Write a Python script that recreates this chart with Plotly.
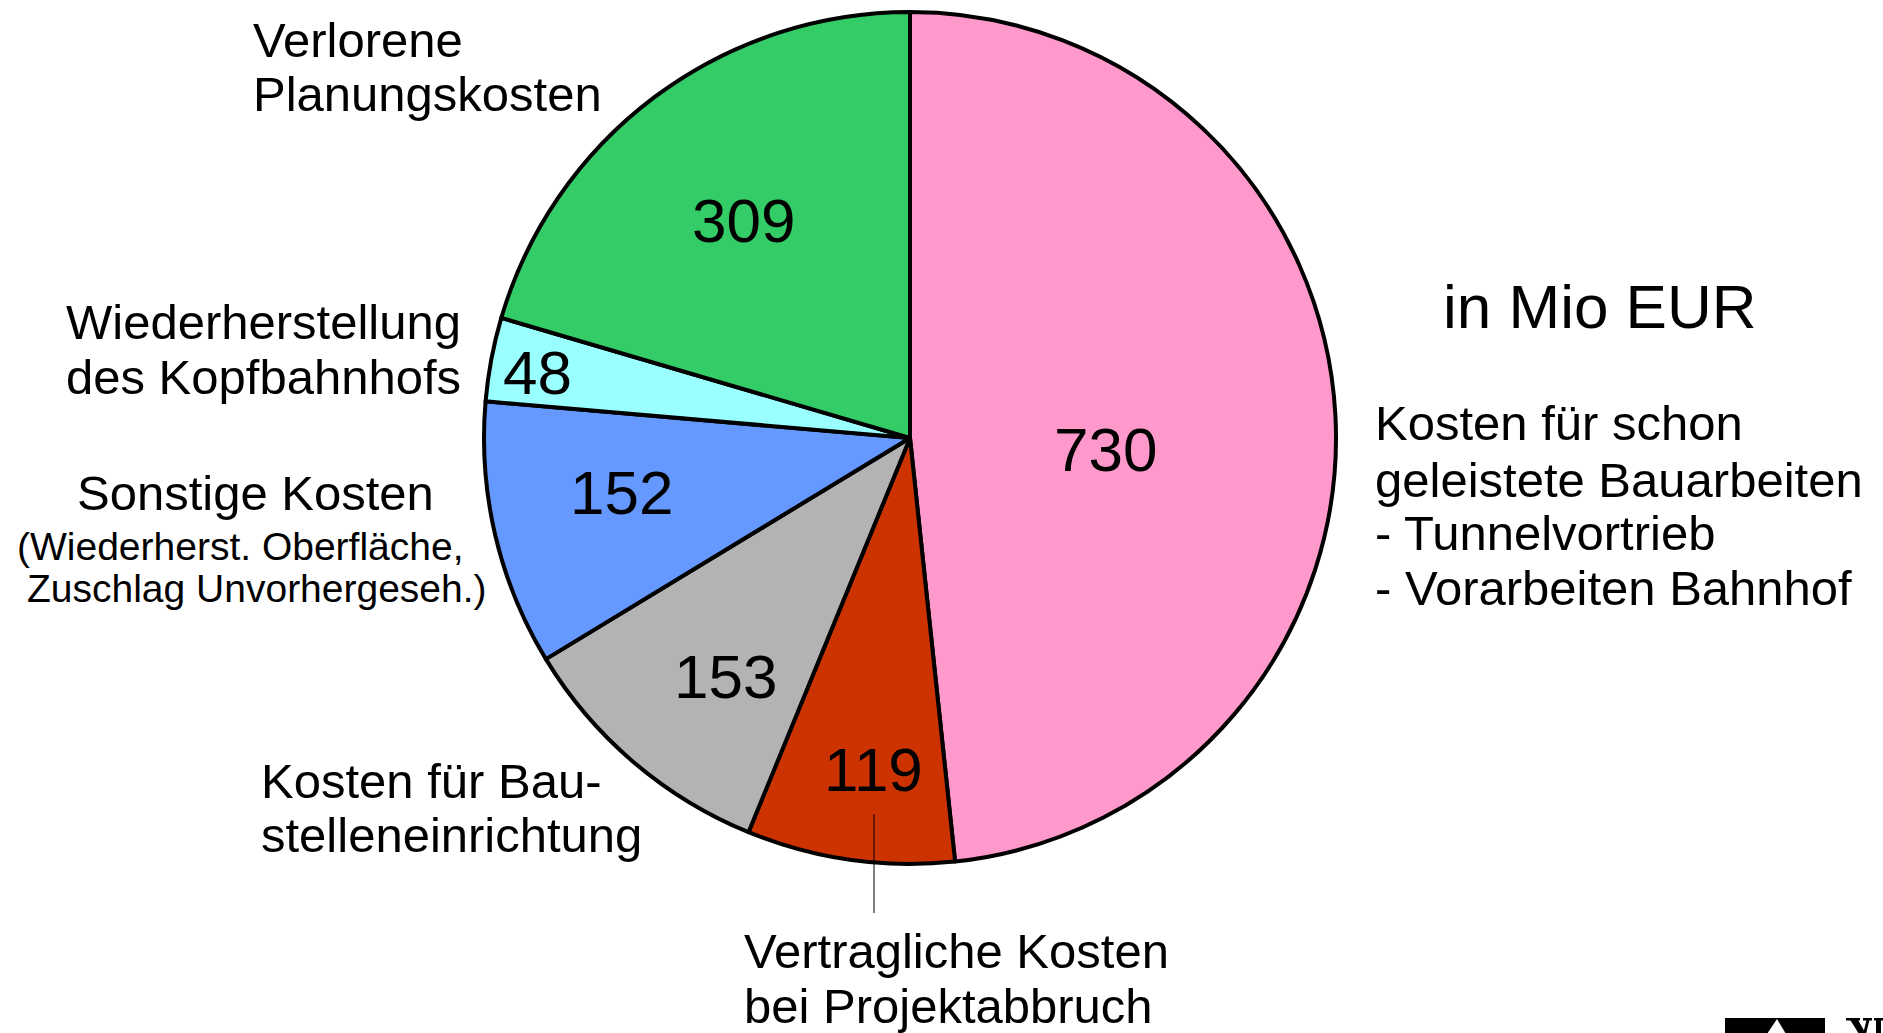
import plotly.graph_objects as go

W, H = 1883, 1033

# Data
categories = ["Kosten für schon geleistete Bauarbeiten", "Vertragliche Kosten bei Projektabbruch",
              "Kosten für Baustelleneinrichtung", "Sonstige Kosten",
              "Wiederherstellung des Kopfbahnhofs", "Verlorene Planungskosten"]
values = [730, 119, 153, 152, 48, 309]
colors = ["#FF99CC", "#CC3300", "#B3B3B3", "#6699FF", "#99FFFF", "#33CC66"]

# Pie geometry (pixels)
cx, cy, R = 910, 438, 426

def px(x):
    return x / W

def py(y):
    return 1 - y / H

fig = go.Figure(go.Pie(
    labels=categories, values=values, sort=False, direction="clockwise", rotation=0,
    marker=dict(colors=colors, line=dict(color="black", width=4)),
    textinfo="none", hoverinfo="label+value", showlegend=False,
    domain=dict(x=[px(cx - R), px(cx + R)], y=[py(cy + R), py(cy - R)]),
))

FONT = "Liberation Sans, Arial, sans-serif"
ann = []

# value labels inside slices (positions are layout placements)
value_pos = [(1105, 450), (873, 769), (725, 676), (621, 492), (537, 372), (743, 220)]
for v, (x, y) in zip(values, value_pos):
    ann.append(dict(x=px(x), y=py(y), text=str(v), showarrow=False, xanchor="center", yanchor="middle",
                    font=dict(size=62, color="black", family=FONT)))

def line(text, x, y, size=49, anchor="left"):
    ann.append(dict(x=px(x), y=py(y), text=text, showarrow=False, xanchor=anchor, yanchor="middle",
                    font=dict(size=size, color="black", family=FONT)))

line("Verlorene", 251, 40)
line("Planungskosten", 251, 94)
line("Wiederherstellung", 64, 322)
line("des Kopfbahnhofs", 64, 377)
line("Sonstige Kosten", 255, 493, anchor="center")
line("(Wiederherst. Oberfläche,", 240, 546, size=39, anchor="center")
line("Zuschlag Unvorhergeseh.)", 257, 588, size=39, anchor="center")
line("Kosten für Bau-", 259, 781)
line("stelleneinrichtung", 259, 835)
line("Vertragliche Kosten", 742, 951)
line("bei Projektabbruch", 742, 1006)
line("in Mio EUR", 1441, 306, size=62)
line("Kosten für schon", 1373, 423)
line("geleistete Bauarbeiten", 1373, 480)
line("- Tunnelvortrieb", 1373, 533)
line("- Vorarbeiten Bahnhof", 1373, 588)


def poly(pts, color="black"):
    d = "M " + " L ".join(f"{px(x)},{py(y)}" for x, y in pts) + " Z"
    return dict(type="path", xref="paper", yref="paper", path=d, line=dict(width=0), fillcolor=color)


shapes = [
    dict(type="line", xref="paper", yref="paper", x0=px(874), y0=py(814), x1=px(874), y1=py(913),
         line=dict(color="black", width=1)),
    # logo fragment, bottom right (cut off by the page edge)
    poly([(1725, 1018), (1825, 1018), (1825, 1040), (1725, 1040)]),
    poly([(1767, 1034), (1777, 1019), (1786, 1034)], "white"),
    # "VI" serif lettering fragment
    poly([(1846, 1018), (1860, 1018), (1860, 1020.5), (1846, 1020.5)]),
    poly([(1849, 1018), (1857, 1018), (1866, 1034), (1859, 1034)]),
    poly([(1863, 1018), (1872, 1018), (1872, 1020.5), (1863, 1020.5)]),
    poly([(1867, 1018), (1870, 1018), (1866, 1034), (1863, 1034)]),
    poly([(1874, 1018), (1883, 1018), (1883, 1020.5), (1874, 1020.5)]),
    poly([(1876, 1018), (1881, 1018), (1881, 1034), (1876, 1034)]),
]

fig.update_layout(
    width=W, height=H, margin=dict(l=0, r=0, t=0, b=0),
    paper_bgcolor="white", plot_bgcolor="white",
    annotations=ann, shapes=shapes,
)

fig.write_html("out.html", config={"displayModeBar": False},
               post_script="document.body.style.margin='0';document.body.style.overflow='hidden';")
